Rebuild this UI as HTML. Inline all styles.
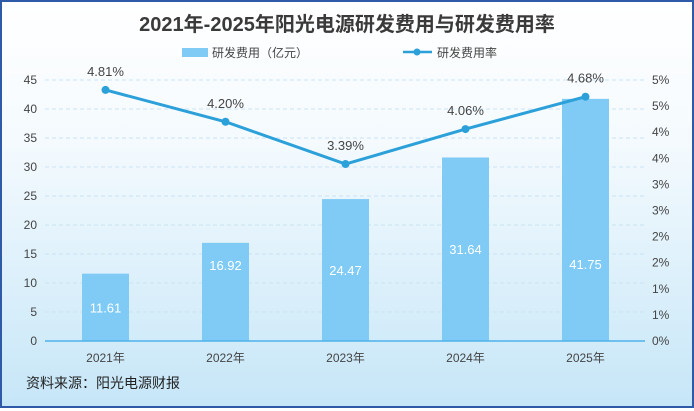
<!DOCTYPE html>
<html><head><meta charset="utf-8"><style>
html,body{margin:0;padding:0;}
body{width:694px;height:408px;overflow:hidden;font-family:"Liberation Sans","Noto Sans CJK SC",sans-serif;}
#wrap{position:absolute;left:0;top:0;width:690px;height:404px;border:2px solid #2f5aa8;background:linear-gradient(180deg,#ffffff 0%,#f4fafe 35%,#d8eefa 75%,#c6e6f7 100%);}
</style></head><body>
<div id="wrap">
<svg id="chart" width="690" height="404" xmlns="http://www.w3.org/2000/svg"></svg>
</div>
<script>
const categories=["2021年","2022年","2023年","2024年","2025年"];
const costs=[11.61,16.92,24.47,31.64,41.75];
const rates=[4.81,4.20,3.39,4.06,4.68];
const leftTicks=[0,5,10,15,20,25,30,35,40,45];
const rightTicks=[0,0.5,1,1.5,2,2.5,3,3.5,4,4.5,5];
const rightLabels=["0%","1%","1%","2%","2%","3%","3%","4%","4%","5%","5%"];
const NS="http://www.w3.org/2000/svg";
const svg=document.getElementById('chart');
const ox=-2,oy=-2;
const y0=341,yTop=80,x0=45,x1=645;
const yL=v=>y0-(v/45)*(y0-yTop)+oy;
const yR=v=>y0-(v/5)*(y0-yTop)+oy;
const xC=i=>105.5+i*120+ox;
const labelShift=[0,-27,0,0,44];
function mk(t,a,txt){const e=document.createElementNS(NS,t);for(const k in a)e.setAttribute(k,a[k]);if(txt!==undefined)e.textContent=txt;svg.appendChild(e);return e;}
let e;
e=mk('text',{x:347+ox,y:31+oy,'text-anchor':'middle','font-size':20,'font-weight':'bold',fill:'#3a3a3a'},'2021年-2025年阳光电源研发费用与研发费用率');


e=mk('rect',{x:182+ox,y:48+oy,width:26,height:9,fill:'#7fcbf5'});


e=mk('text',{x:212+ox,y:57+oy,'font-size':12,fill:'#444'},'研发费用（亿元）');


e=mk('line',{x1:403+ox,y1:52+oy,x2:432+ox,y2:52+oy,stroke:'#2ba0d9','stroke-width':2.5});


e=mk('circle',{cx:417+ox,cy:52+oy,r:3.5,fill:'#2ba0d9'});


e=mk('text',{x:437+ox,y:57+oy,'font-size':12,fill:'#444'},'研发费用率');


leftTicks.forEach(v=>{
 if(v>0){e=mk('line',{x1:x0+ox,x2:x1+ox,y1:yL(v),y2:yL(v),stroke:'#c9e3f5','stroke-dasharray':'4,3','stroke-width':1});
 
 }
 e=mk('text',{x:37+ox,y:yL(v)+4,'text-anchor':'end','font-size':12,fill:'#444'},String(v));
 
 
});
rightTicks.forEach((v,i)=>{
 e=mk('text',{x:652+ox,y:yR(v)+4,'font-size':12,fill:'#444'},rightLabels[i]);
 
 
});
costs.forEach((v,i)=>{
 e=mk('rect',{x:xC(i)-23.5,y:yL(v),width:47,height:yL(0)-yL(v),fill:'#7fcbf5'});
 
 
 e=mk('text',{x:xC(i),y:(yL(v)+yL(0))/2+5+labelShift[i],'text-anchor':'middle','font-size':13,fill:'#fff'},v.toFixed(2));
 
 
 e=mk('text',{x:xC(i),y:362+oy,'text-anchor':'middle','font-size':12,fill:'#444'},categories[i]);
 
 
});
e=mk('line',{x1:x0+ox,x2:x1+ox,y1:yL(0),y2:yL(0),stroke:'#4db3ea','stroke-width':1.5});


e=mk('polyline',{points:rates.map((r,i)=>xC(i)+','+yR(r)).join(' '),fill:'none',stroke:'#2ba0d9','stroke-width':3});


rates.forEach((r,i)=>{
 e=mk('circle',{cx:xC(i),cy:yR(r),r:4,fill:'#2ba0d9'});
 
 
 e=mk('text',{x:xC(i),y:yR(r)-14,'text-anchor':'middle','font-size':13,fill:'#444'},r.toFixed(2)+'%');
 
 
});
e=mk('text',{x:26+ox,y:388+oy,'font-size':14,fill:'#222'},'资料来源：阳光电源财报');


</script>
</body></html>
